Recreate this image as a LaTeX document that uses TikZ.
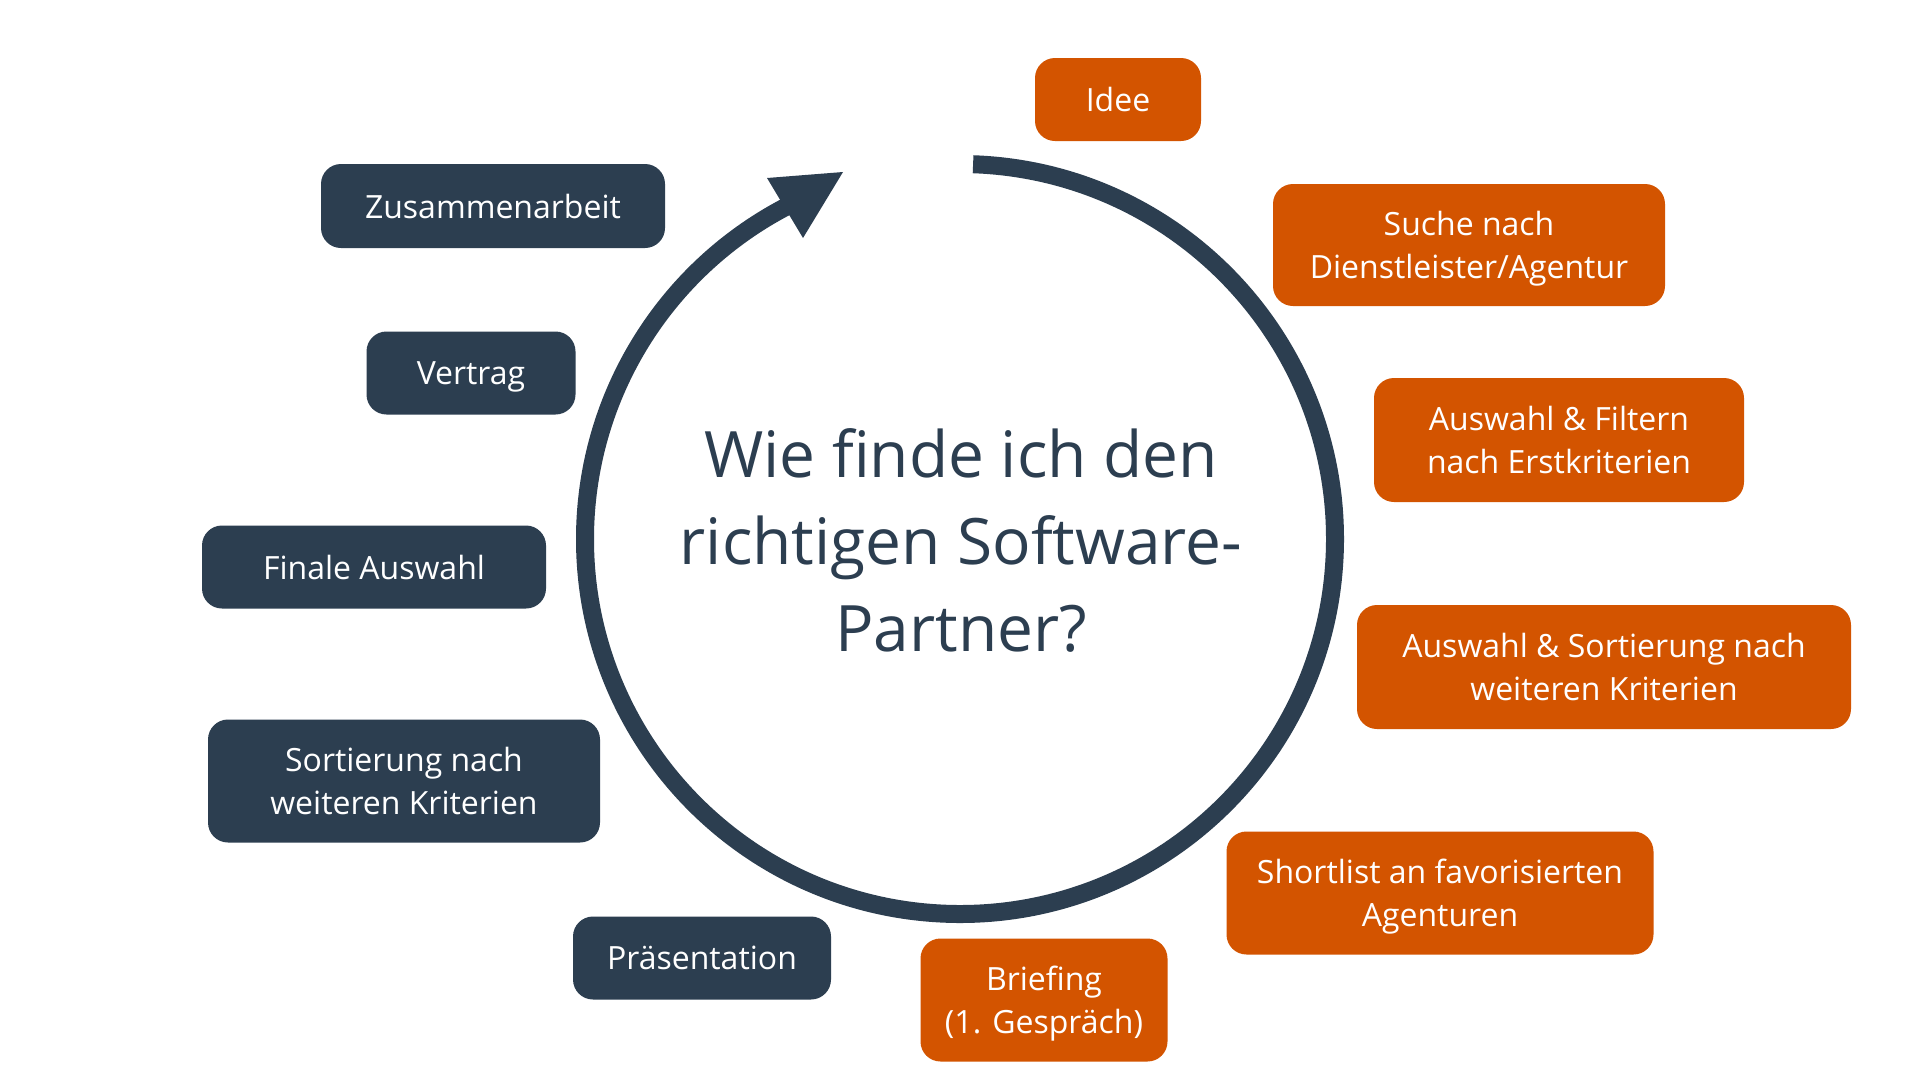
\documentclass[tikz,border=0pt]{standalone}
\usepackage{fontspec}
\setmainfont{Open Sans}
\definecolor{navy}{HTML}{2C3E50}
\definecolor{rust}{HTML}{D35400}
\begin{document}
\begin{tikzpicture}[x=1pt,y=-1pt,
  stage/.style={rounded corners=20pt, text=white, align=center,
    font=\fontsize{32}{43}\selectfont, inner sep=0pt, text depth=0pt},
  ostage/.style={stage, fill=rust},
  nstage/.style={stage, fill=navy},
  title/.style={text=navy, align=center, font=\fontsize{64}{87}\selectfont}]
\useasboundingbox (0,0) rectangle (1920,1080);
\fill[white] (0,0) rectangle (1920,1080);
% cycle arrow
\coordinate (c) at (960,539);
\draw[navy, line width=18pt] (c) ++(-88:375) arc[start angle=-88, end angle=245, radius=375];
\fill[navy] (843,172) -- (767,178) -- (803,238) -- cycle;
\node[title] (q) at (961,540) {Wie finde ich den\\richtigen Software-\\Partner?};
% orange stages
\node[ostage, minimum width=166pt, minimum height=83pt] (idee) at (1118,99.5) {Idee};
\node[ostage, minimum width=392pt, minimum height=122pt] (suche) at (1469,245) {Suche nach\\Dienstleister/Agentur};
\node[ostage, minimum width=370pt, minimum height=124pt] (filter) at (1559,440) {Auswahl \& Filtern\\nach Erstkriterien};
\node[ostage, minimum width=494pt, minimum height=124pt] (sort) at (1604,667) {Auswahl \& Sortierung nach\\weiteren Kriterien};
\node[ostage, minimum width=427pt, minimum height=123pt] (short) at (1440,893) {Shortlist an favorisierten\\Agenturen};
\node[ostage, minimum width=247pt, minimum height=123pt] (brief) at (1044,1000) {Briefing\\(1. Gespräch)};
% navy stages
\node[nstage, minimum width=258pt, minimum height=83pt] (praes) at (702,958) {Präsentation};
\node[nstage, minimum width=392pt, minimum height=123pt] (sort2) at (404,781) {Sortierung nach\\weiteren Kriterien};
\node[nstage, minimum width=344pt, minimum height=83pt] (final) at (374,567) {Finale Auswahl};
\node[nstage, minimum width=209pt, minimum height=83pt] (vertrag) at (471,373) {Vertrag};
\node[nstage, minimum width=344pt, minimum height=84pt] (zus) at (493,206) {Zusammenarbeit};
\end{tikzpicture}
\end{document}
